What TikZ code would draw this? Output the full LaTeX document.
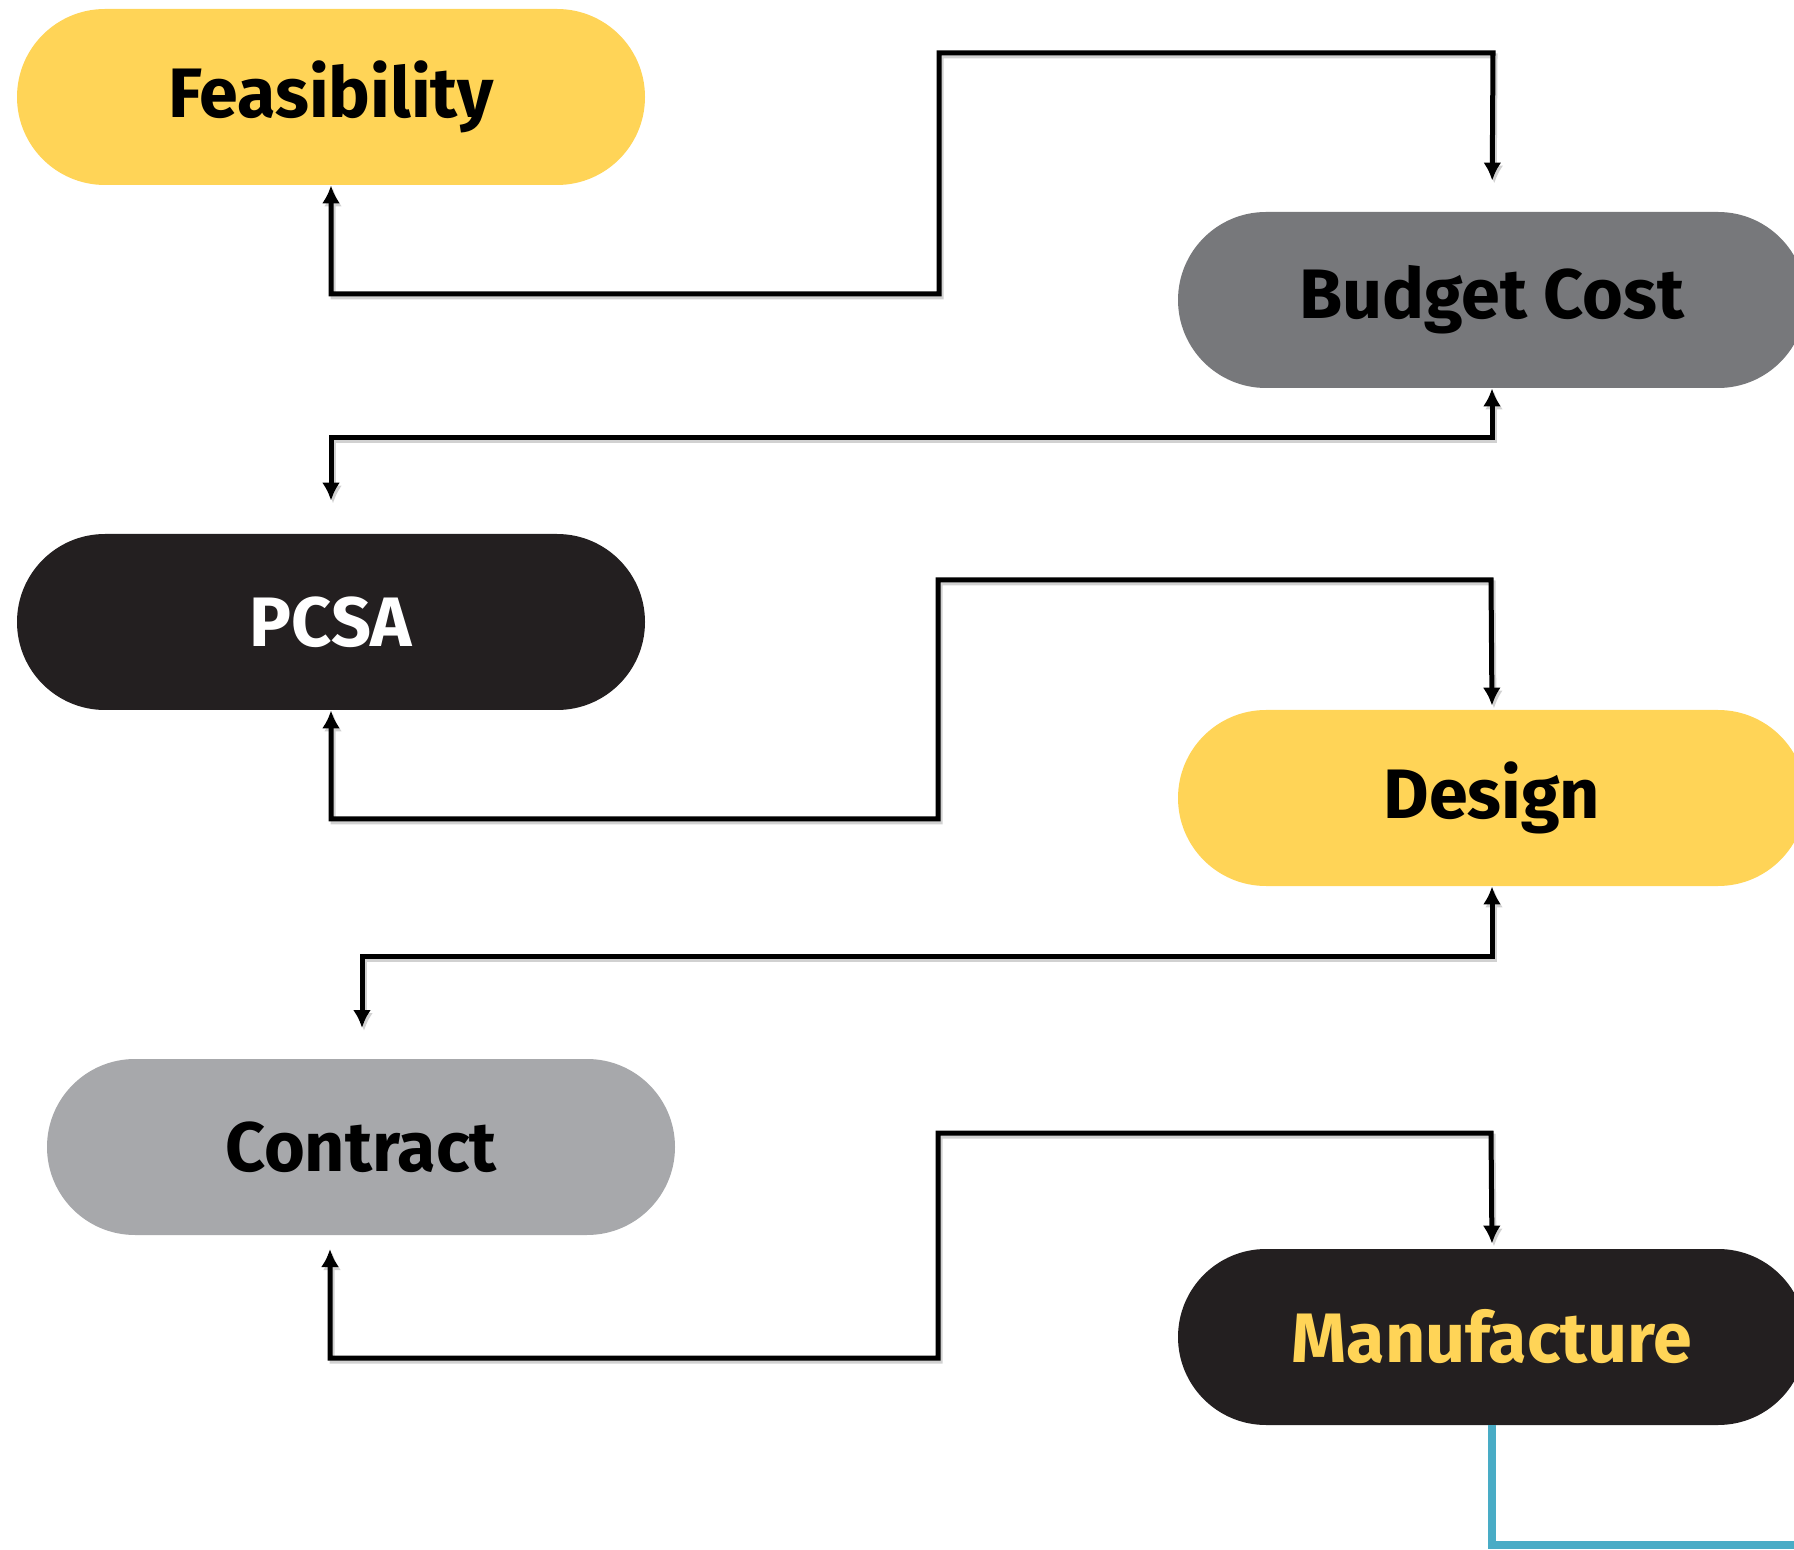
\documentclass[tikz,border=0pt]{standalone}
\usepackage{fontspec}
\setmainfont{Fira Sans}
\usepackage{tikz}
\usetikzlibrary{shapes.misc, arrows.meta}

\definecolor{stageyellow}{RGB}{255,212,87}
\definecolor{stagegrey}{RGB}{119,120,123}
\definecolor{stagelight}{RGB}{167,168,171}
\definecolor{stagedark}{RGB}{35,31,32}
\definecolor{flowblue}{RGB}{73,172,198}

\tikzset{
    stage/.style={rounded rectangle, minimum width=314pt, minimum height=88pt,
        inner sep=0pt, font=\fontsize{35}{38}\selectfont\bfseries},
    link/.style={line width=2.5pt, {Latex[length=9pt,width=9pt]}-{Latex[length=9pt,width=9pt]},
        preaction={draw=black!18, line width=2.5pt, transform canvas={shift={(1pt,-1.5pt)}}}},
    exitline/.style={line width=4pt, flowblue}
}

\begin{document}
\begin{tikzpicture}[x=0.5pt, y=-0.5pt]
        \useasboundingbox (0,0) rectangle (1794,1550);
        \clip (0,0) rectangle (1794,1550);

        % Stages
        \node[stage, fill=stageyellow, text=black] (feas) at (331,97) {Feasibility};
        \node[stage, fill=stagegrey, text=black] (budget) at (1492,300) {Budget Cost};
        \node[stage, fill=stagedark, text=white] (pcsa) at (331,622) {PCSA};
        \node[stage, fill=stageyellow, text=black] (design) at (1492,798) {Design};
        \node[stage, fill=stagelight, text=black] (contract) at (361,1147) {Contract};
        \node[stage, fill=stagedark, text=stageyellow] (manuf) at (1492,1337) {Manufacture};

        % Feasibility <-> Budget Cost
        \draw[link, shorten >=15.5pt] (feas.south) |- (939,294) |- (1493,53) -- (budget.north);

        % Budget Cost <-> PCSA
        \draw[link, shorten >=16.5pt] (budget.south) |- (331,438) -- (pcsa.north);

        % PCSA <-> Design
        \draw[link, shorten >=2pt] (pcsa.south) |- (938,819) |- (1491,580) -- (design.north);

        % Design <-> Contract
        \draw[link, shorten >=15.5pt] (design.south) |- (362,956) -- (362,1059);

        % Contract <-> Manufacture
        \draw[link, shorten <=7.5pt, shorten >=2.5pt] (330,1234) |- (938,1358) |- (1491,1133) -- (manuf.north);

        % Onward from Manufacture
        \coordinate (onward) at (1840,1545);
        \draw[exitline] (manuf.south) |- (onward);
\end{tikzpicture}
\end{document}
